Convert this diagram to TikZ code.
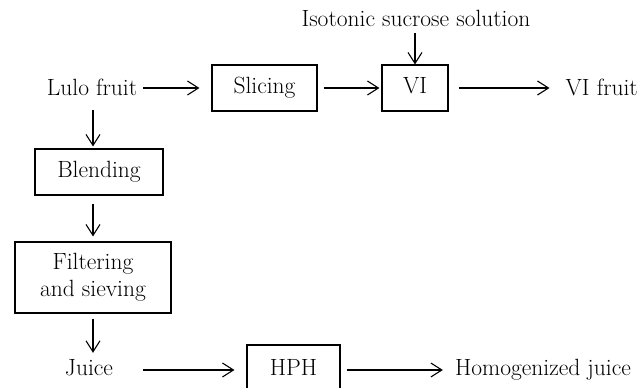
\documentclass[tikz,border=0pt]{standalone}
\usetikzlibrary{arrows.meta}
\begin{document}
\begin{tikzpicture}[x=1pt,y=-1pt,
  font=\fontsize{23.5}{27}\selectfont,
  txt/.style={inner sep=0pt, text height=16pt, text depth=5pt},
  box/.style={draw, line width=1.1pt, inner sep=0pt, text height=16pt, text depth=5pt},
  box2/.style={draw, line width=1.1pt, inner sep=0pt, align=center},
  arr/.style={line width=1.1pt, -{Straight Barb[length=11pt,width=14pt,line width=1.1pt]}}]
\useasboundingbox (0,0) rectangle (640,388);
\clip (0,0) rectangle (640,388);
\node[txt] (iso) at (416,21.5) {Isotonic sucrose solution};
\node[txt] (lulo) at (92,89.5) {Lulo fruit};
\node[box, minimum width=105pt, minimum height=46pt] (slice) at (264.5,88) {Slicing};
\node[box, minimum width=66pt, minimum height=46pt] (vi) at (415,88) {VI};
\node[txt, anchor=east] (vif) at (638,89.5) {VI fruit};
\node[box, minimum width=128pt, minimum height=46pt] (blend) at (99,172) {Blending};
\node[box2, minimum width=156pt, minimum height=71pt] (filt) at (93,277.5) {Filtering\\and sieving};
\node[txt] (juice) at (89,369.5) {Juice};
\node[box, minimum width=93pt, minimum height=50pt] (hph) at (293.5,370) {HPH};
\node[txt] (hom) at (543,369.5) {Homogenized juice};
\draw[arr] ([yshift=-1pt]vi.north |- iso.south) -- (vi.north);
\draw[arr] ([xshift=6pt]lulo.east |- slice.west) -- ([xshift=-12pt]slice.west);
\draw[arr] ([xshift=6pt]slice.east) -- ([xshift=-2pt]vi.west);
\draw[arr] ([xshift=10pt]vi.east) -- ([xshift=-16pt]vif.west |- vi.east);
\draw[arr] ([yshift=-10pt]filt.north |- lulo.south) -- ([yshift=2pt]filt.north |- blend.north);
\draw[arr] ([yshift=-8pt]filt.north |- blend.south) -- ([yshift=5pt]filt.north);
\draw[arr] ([yshift=-5pt]filt.south) -- ([yshift=6pt]filt.south |- juice.north);
\draw[arr] ([xshift=30pt]juice.east |- hph.west) -- ([xshift=-12pt]hph.west);
\draw[arr] ([xshift=6pt]hph.east) -- ([xshift=-12pt]hom.west |- hph.east);
\end{tikzpicture}
\end{document}
